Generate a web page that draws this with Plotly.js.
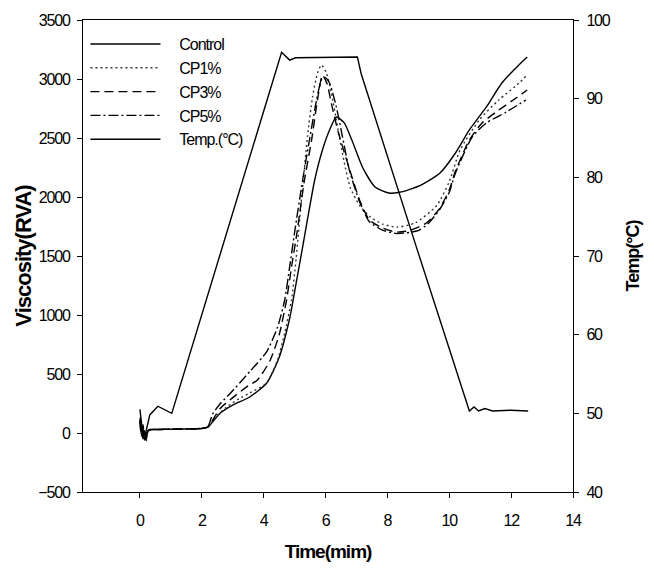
<!DOCTYPE html>
<html>
<head>
<meta charset="utf-8">
<script src="https://cdn.plot.ly/plotly-3.0.1.min.js"></script>
<style>
html,body{margin:0;padding:0;background:#fff;}
#chart{width:654px;height:572px;}
.xtick text,.ytick text,.y2tick text{letter-spacing:-1.2px;}
.legendtext{letter-spacing:-1px;}
.g-xtitle text,.g-ytitle text,.g-y2title text{letter-spacing:-1px;}
</style>
</head>
<body>
<div id="chart"></div>
<script>
// ---- data (time in min, viscosity in RVA units, temperature in °C) ----
const tControl = [0,0.05,0.1,0.15,0.2,0.27,0.35,0.6,1.0,1.5,2.0,2.2,2.4,2.6,3.0,3.55,4.1,4.5,4.85,5.05,5.25,5.45,5.65,5.9,6.13,6.35,6.6,6.85,7.2,7.6,8.05,8.5,9.1,9.7,10.2,10.65,11.2,11.7,12.25,12.52];
const vControl = [130,40,-50,20,-60,25,30,30,32,34,38,50,110,170,237,305,424,640,983,1271,1560,1860,2144,2398,2568,2678,2630,2483,2250,2085,2034,2045,2102,2203,2373,2568,2763,2966,3119,3186];

const tCP1 = [0,0.05,0.1,0.15,0.2,0.27,0.35,0.6,1.0,1.5,2.0,2.2,2.5,2.8,3.2,3.55,4.1,4.45,4.68,4.9,5.05,5.23,5.42,5.58,5.74,5.87,6.03,6.19,6.4,6.6,6.8,7.1,7.45,7.85,8.3,8.9,9.6,10.0,10.35,10.97,11.6,12.26,12.52];
const vCP1 = [100,-20,60,-40,-70,15,28,30,33,35,40,55,150,220,290,339,424,619,847,1127,1480,2000,2520,2847,3050,3119,3050,2880,2580,2300,2080,1930,1830,1770,1745,1780,1930,2130,2398,2653,2822,2966,3034];

const tCP3 = [0,0.05,0.1,0.15,0.2,0.27,0.35,0.6,1.0,1.5,2.0,2.2,2.4,2.6,3.0,3.5,3.8,4.2,4.5,4.74,4.9,5.05,5.32,5.55,5.74,5.9,6.05,6.2,6.4,6.77,7.1,7.42,7.84,8.29,8.71,9.26,9.68,10.0,10.2,10.65,11.06,11.6,12.16,12.52];
const vCP3 = [90,-30,40,-60,-40,20,28,30,33,35,38,52,130,210,300,400,450,610,830,1127,1407,1650,2144,2483,2822,3034,2960,2780,2560,2240,1975,1805,1737,1703,1715,1780,1900,2060,2220,2483,2627,2737,2839,2907];

const tCP5 = [0,0.05,0.1,0.15,0.2,0.27,0.35,0.6,1.0,1.5,2.0,2.2,2.35,2.6,2.9,3.55,4.1,4.45,4.68,4.84,5.0,5.26,5.48,5.71,5.88,6.0,6.13,6.35,6.55,6.77,7.1,7.42,7.84,8.3,8.71,9.03,9.3,9.68,10.0,10.2,10.74,11.2,11.84,12.48];
const vCP5 = [110,-10,70,-50,-20,25,30,30,32,34,38,55,160,250,330,520,690,898,1127,1407,1700,2144,2483,2822,3000,3010,2966,2763,2508,2229,1960,1790,1720,1690,1700,1720,1770,1890,2040,2203,2508,2627,2720,2822];

const tTemp = [0,0.06,0.16,0.32,0.58,0.81,1.03,4.58,4.84,5.03,7.03,7.15,8.94,10.65,10.8,10.95,11.15,11.4,12.0,12.55];
const vTemp = [50.5,48.5,47.1,49.8,50.9,50.4,50.0,95.9,94.9,95.2,95.3,93.2,71.1,50.3,50.8,50.3,50.6,50.3,50.4,50.3];

const seriesNames = ['Control','CP1%','CP3%','CP5%','Temp.(°C)'];
const xTicks = [0,2,4,6,8,10,12,14];

const FONT = 'Liberation Sans, Arial, sans-serif';
const PAD = '\u00a0\u00a0\u00a0\u00a0';

const traces = [
  {x:tControl, y:vControl, name:PAD+seriesNames[0], mode:'lines', line:{color:'#000', width:1.4, shape:'spline', smoothing:0.6}},
  {x:tCP1, y:vCP1, name:PAD+seriesNames[1], mode:'lines', line:{color:'#333', width:1.4, dash:'2px,3px', shape:'spline', smoothing:0.6}},
  {x:tCP3, y:vCP3, name:PAD+seriesNames[2], mode:'lines', line:{color:'#000', width:1.4, dash:'9px,5px', shape:'spline', smoothing:0.6}},
  {x:tCP5, y:vCP5, name:PAD+seriesNames[3], mode:'lines', line:{color:'#000', width:1.4, dash:'10px,3px,2px,3px', shape:'spline', smoothing:0.6}},
  {x:tTemp, y:vTemp, name:PAD+seriesNames[4], yaxis:'y2', mode:'lines', line:{color:'#000', width:1.4}}
];

const layout = {
  width:654, height:572,
  margin:{l:83, r:81, t:20, b:80, pad:0},
  paper_bgcolor:'#fff', plot_bgcolor:'#fff',
  font:{family:FONT, size:16, color:'#000'},
  showlegend:true,
  legend:{x:0.005, y:0.985, xanchor:'left', yanchor:'top', bgcolor:'rgba(0,0,0,0)', borderwidth:0,
          font:{family:FONT, size:16, color:'#000'}, itemwidth:70, tracegroupgap:0},
  xaxis:{range:[-1.84,14], tickvals:xTicks, ticktext:xTicks.map(String), showline:true, linecolor:'#000', linewidth:1.2,
         mirror:true, ticks:'outside', ticklen:5, tickcolor:'#000', showgrid:false, zeroline:false,
         ticklabelstandoff:9, tickfont:{size:16},
         title:{text:'Time(mim)', font:{family:FONT, size:19, weight:'bold', color:'#000'}, standoff:16}},
  yaxis:{range:[-500,3500], dtick:500, showline:true, linecolor:'#000', linewidth:1.2, ticks:'outside', ticklen:5,
         tickcolor:'#000', showgrid:false, zeroline:false, ticklabelstandoff:4, tickfont:{size:16},
         title:{text:'Viscosity(RVA)', font:{family:FONT, size:22, weight:'bold', color:'#000'}, standoff:0}},
  yaxis2:{range:[40,100], dtick:10, overlaying:'y', side:'right', showline:true, linecolor:'#000', linewidth:1.2,
          ticks:'outside', ticklen:5, tickcolor:'#000', showgrid:false, zeroline:false, ticklabelstandoff:4, tickfont:{size:16},
          title:{text:'Temp(°C)', font:{family:FONT, size:18, weight:'bold', color:'#000'}, standoff:16}}
};

Plotly.newPlot('chart', traces, layout, {staticPlot:true, displayModeBar:false});
</script>
</body>
</html>
